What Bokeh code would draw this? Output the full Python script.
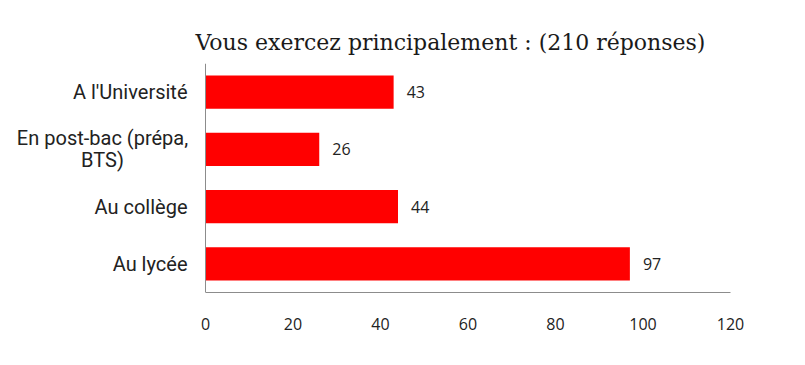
import textwrap
from bokeh.plotting import figure
from bokeh.models import ColumnDataSource, FixedTicker, Span
from bokeh.core.properties import value
from bokeh.embed import file_html
from bokeh.resources import INLINE

title_text = "Vous exercez principalement : (210 réponses)"
categories = ["Au lycée", "Au collège", "En post-bac (prépa, BTS)", "A l'Université"]
counts = [97, 44, 26, 43]
x_ticks = [0, 20, 40, 60, 80, 100, 120]

# layout: value axis runs from page x=205 (0) to x=730 (120); the space to the
# left of 0 is kept inside the frame so the category labels can be drawn there
W, H = 789, 349
AX_LEFT, AX_RIGHT = 205, 730
px_per_unit = (AX_RIGHT - AX_LEFT) / (x_ticks[-1] - x_ticks[0])
x_start = x_ticks[0] - AX_LEFT / px_per_unit

p = figure(width=W, height=H, y_range=categories, x_range=(x_start, x_ticks[-1]),
           output_backend="svg", toolbar_location=None, y_axis_location=None,
           min_border_left=0, min_border_right=W - AX_RIGHT,
           min_border_top=63, min_border_bottom=57)
p.outline_line_color = None
p.background_fill_color = "white"
p.border_fill_color = "white"
p.xgrid.visible = False
p.ygrid.visible = False

p.title.text = title_text
p.title.align = "left"
p.title.offset = 195
p.title.standoff = 17
p.title.text_font = "DejaVu Serif"
p.title.text_font_size = "22px"
p.title.text_font_style = "normal"
p.title.text_color = "#1a1a1a"

src = ColumnDataSource(dict(cat=categories, n=counts, lbl=[str(c) for c in counts]))
p.hbar(y="cat", right="n", left=0, height=0.58, source=src,
       fill_color="#ff0000", line_color=None)
p.text(x="n", y="cat", text="lbl", source=src, x_offset=13,
       text_baseline="middle", text_align="left",
       text_font=value("Open Sans"), text_font_size="16px", text_color="#222222")

# vertical axis line at 0
p.add_layout(Span(location=0, dimension="height", line_color="#8c8c8c", line_width=1))

# category labels (wrapped like the original)
one = dict(y=[], t=[], x=[])
multi = dict(y=[], t=[], x=[], off=[])
for c in categories:
    lines = textwrap.wrap(c, 19)
    if len(lines) == 1:
        one["y"].append(c); one["t"].append(c); one["x"].append(0)
    else:
        n = len(lines)
        for i, ln in enumerate(lines):
            multi["y"].append(c); multi["t"].append(ln); multi["x"].append(0)
            multi["off"].append((i - (n - 1) / 2) * 22)
p.text(x="x", y="y", text="t", source=ColumnDataSource(one),
       x_offset=-18, text_align="right", text_baseline="middle",
       text_font=value("Roboto"), text_font_size="20px", text_color="#222222")
p.text(x="x", y="y", text="t", y_offset="off", source=ColumnDataSource(multi),
       x_offset=-103, text_align="center", text_baseline="middle",
       text_font=value("Roboto"), text_font_size="20px", text_color="#222222")

ax = p.xaxis[0]
ax.bounds = (x_ticks[0], x_ticks[-1])
ax.ticker = FixedTicker(ticks=x_ticks)
ax.axis_line_color = "#8c8c8c"
ax.major_tick_line_color = None
ax.minor_tick_line_color = None
ax.major_label_standoff = 19
ax.major_label_text_font = "Open Sans"
ax.major_label_text_font_size = "16px"
ax.major_label_text_color = "#222222"

open("out.html", "w").write(file_html(p, INLINE))
